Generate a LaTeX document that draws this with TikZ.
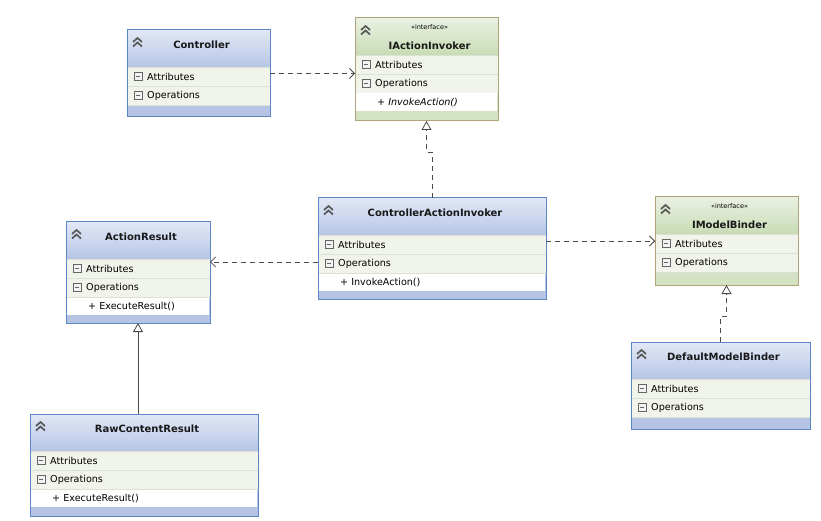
\documentclass[tikz,border=0pt]{standalone}
\usepackage{fontspec}
\setmainfont{DejaVu Sans}
\usetikzlibrary{arrows.meta,positioning}
\definecolor{clsline}{HTML}{5B87C7}
\definecolor{clstop}{HTML}{E2E8F5}
\definecolor{clsmid}{HTML}{B7C5E6}
\definecolor{clsbot}{HTML}{B6C4E4}
\definecolor{ifcline}{HTML}{ADA47A}
\definecolor{ifctop}{HTML}{EAF1E2}
\definecolor{ifcmid}{HTML}{C8DBB5}
\definecolor{ifcbot}{HTML}{D3E2C3}
\definecolor{rowbg}{HTML}{F1F4EB}
\definecolor{rowrule}{HTML}{DCE2D3}
\definecolor{linkgray}{HTML}{4A4A4A}
\tikzstyle{boxfill}=[rectangle,inner sep=0pt,outer sep=0pt]
\tikzstyle{rowfill}=[fill=rowbg]
\tikzstyle{rowsep}=[draw=rowrule,line width=0.7pt]
\tikzstyle{chev}=[draw=black!65,line width=1.7pt]
\tikzstyle{minusbox}=[draw=black!60,fill=black!5,line width=0.7pt]
\tikzstyle{rowtext}=[anchor=west,inner sep=0pt,font=\fontsize{9.6}{11}\selectfont,text=black]
\tikzstyle{optext}=[rowtext]
\tikzstyle{title}=[inner sep=0pt,font=\fontsize{10}{12}\selectfont\bfseries,text=black!90]
\tikzstyle{stereo}=[inner sep=0pt,font=\fontsize{6.5}{8}\selectfont]
\tikzstyle{dep}=[draw=linkgray,line width=0.8pt,dash pattern=on 5pt off 4pt,-{Straight Barb[length=5pt,width=10pt]}]
\tikzstyle{real}=[draw=linkgray,line width=0.8pt,dash pattern=on 5pt off 4pt,-{Triangle[open,length=9pt,width=10pt,fill=white]}]
\tikzstyle{gen}=[draw=linkgray,line width=0.8pt,-{Triangle[open,length=9pt,width=10pt,fill=white]}]

% class box: name, left, top, width, height, kind (cls/ifc)
\newcommand{\umlclass}[6]{%
  \node[boxfill,fill=#6bot,minimum width=#4,minimum height=#5,anchor=north west] (#1) at (#2,#3) {};
  \begin{scope}[shift={(#1.north west)}]
    \shade[top color=#6top,bottom color=#6mid] (0,0) rectangle (#4,37);
    \fill[rowfill] (0,37) rectangle (#4,75);
    \draw[rowsep] (0,37) -- (#4,37) (0,56) -- (#4,56) (0,75) -- (#4,75);
    \draw[chev] (6,12) -- (10.5,8) -- (15,12) (6,16.5) -- (10.5,12.5) -- (15,16.5);
    \foreach \r in {46.5,65.5} {\draw[minusbox] (7,\r-4) rectangle (15,\r+4) (9,\r) -- (13,\r);}
    \node[rowtext] (#1-attr) at (20,46.5) {Attributes};
    \node[rowtext] (#1-ops) at (20,65.5) {Operations};
  \end{scope}
  \draw[#6line,line width=1pt] (#1.north west) rectangle (#1.south east);
}
\newcommand{\umlop}[2]{%
  \fill[white] ([shift={(0.6,75.5)}]#1.north west) rectangle ([shift={(-0.6,93)}]#1.north east);
  \node[optext] (#1-op) at ([shift={(22,84)}]#1.north west) {#2};
}

\begin{document}
\begin{tikzpicture}[x=1pt,y=-1pt]
\useasboundingbox (0,0) rectangle (821,521);
\umlclass{ctrl}{127}{30}{143}{87}{cls}
\umlclass{iai}{355}{18}{143}{103}{ifc}
\umlclass{cai}{318}{198}{228}{101}{cls}
\umlclass{ar}{66}{222}{144}{101}{cls}
\umlclass{imb}{655}{197}{143}{88}{ifc}
\umlclass{rcr}{30}{414}{228}{102}{cls}
\umlclass{dmb}{631}{342}{179}{87}{cls}
\umlop{iai}{\itshape + InvokeAction()}
\umlop{cai}{+ InvokeAction()}
\umlop{ar}{+ ExecuteResult()}
\umlop{rcr}{+ ExecuteResult()}
\node[title] (ctrl-t) at ([shift={(3,15)}]ctrl.north) {Controller};
\node[stereo] (iai-s) at ([shift={(3,9)}]iai.north) {«interface»};
\node[title] (iai-t) at ([shift={(3,28)}]iai.north) {IActionInvoker};
\node[title] (cai-t) at ([shift={(3,15)}]cai.north) {ControllerActionInvoker};
\node[title] (ar-t) at ([shift={(3,15)}]ar.north) {ActionResult};
\node[stereo] (imb-s) at ([shift={(3,9)}]imb.north) {«interface»};
\node[title] (imb-t) at ([shift={(3,28)}]imb.north) {IModelBinder};
\node[title] (rcr-t) at ([shift={(3,15)}]rcr.north) {RawContentResult};
\node[title] (dmb-t) at ([shift={(3,15)}]dmb.north) {DefaultModelBinder};
% links
\draw[dep] (ctrl.east) -- (ctrl.east -| iai.west);
\path ([yshift=-13.5pt]cai.west) coordinate (cai-l);
\draw[dep] (cai-l) -- (cai-l -| ar.east);
\draw[dep] (cai.east |- imb.west) -- (imb.west);
\draw[real] (cai.north) -- ++(0,-46) -| (iai.south);
\draw[real] (dmb.north) -- ++(0,-26) -| (imb.south);
\draw[gen] (ar.south |- rcr.north) -- (ar.south);
\end{tikzpicture}
\end{document}
